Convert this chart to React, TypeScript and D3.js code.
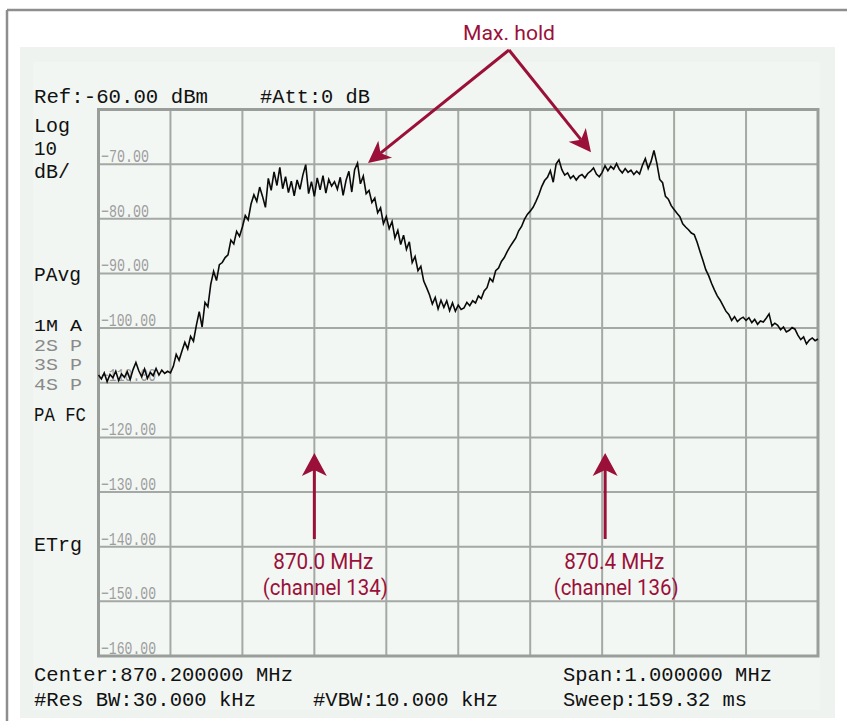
import React from "react";
import * as d3 from "d3";

// ---- data ----
const START_FREQ_MHZ = 869.7;
const SPAN_MHZ = 1.0;
const REF_LEVEL_DBM = -60;
const BOTTOM_LEVEL_DBM = -160;

// sweep trace (dBm), one row per horizontal division
const traceLevels: number[] = [
  -108.6, -109.3, -108.2, -109.8, -108.5, -109.1, -107.9, -109.6, -108.4, -109.0, -108.0, -109.4, -107.6, -106.3, -107.8, -108.9, -107.5, -109.2, -108.1, -108.7, -107.4, -108.6, -107.7, -108.3, -107.9,
  -108.2, -107.0, -104.8, -105.9, -104.2, -102.6, -103.8, -101.5, -102.4, -99.5, -97.0, -99.8, -95.3, -96.1, -92.0, -89.6, -91.3, -88.4, -88.0, -87.1, -86.6, -83.9, -84.6, -82.3, -83.2,
  -81.5, -79.4, -80.2, -77.3, -75.6, -76.8, -74.2, -75.9, -77.9, -72.6, -74.8, -71.4, -73.9, -70.6, -74.5, -72.3, -75.2, -73.1, -75.8, -72.9, -74.6, -72.0, -70.1, -75.4, -73.2,
  -75.9, -72.5, -74.7, -72.1, -75.3, -72.8, -74.0, -73.2, -74.6, -72.4, -75.7, -73.0, -71.3, -75.1, -71.0, -69.8, -73.6, -72.2, -75.4, -74.8, -77.0, -76.2, -78.9, -78.0, -80.9,
  -79.6, -81.8, -80.5, -83.5, -82.1, -84.7, -83.0, -85.6, -84.2, -88.0, -86.9, -89.5, -88.7, -91.4, -92.6, -93.9, -95.6, -94.4, -96.5, -94.9, -96.2, -95.0, -96.8, -95.4, -96.9,
  -95.8, -96.6, -96.3, -95.3, -95.9, -95.0, -95.4, -94.1, -94.6, -93.2, -92.6, -90.9, -91.5, -89.5, -89.0, -87.8, -87.1, -86.0, -85.1, -84.3, -83.5, -82.2, -81.4, -80.1, -79.2,
  -78.6, -77.9, -76.8, -75.6, -74.1, -73.0, -72.4, -71.2, -73.3, -70.0, -69.2, -71.0, -72.0, -71.6, -72.6, -72.1, -72.9, -72.2, -71.9, -72.5, -71.7, -71.3, -70.7, -71.8, -72.3,
  -71.5, -70.3, -71.2, -70.4, -70.9, -69.9, -71.0, -71.6, -70.8, -71.5, -71.1, -71.9, -71.3, -71.8, -70.2, -69.0, -70.8, -69.5, -67.5, -69.8, -72.8, -73.4, -75.9, -76.4, -77.6,
  -78.3, -79.0, -79.6, -80.9, -81.5, -82.0, -82.6, -82.9, -84.3, -86.0, -87.6, -89.3, -90.4, -91.8, -93.0, -94.1, -94.9, -95.9, -96.9, -97.5, -98.6, -97.9, -98.8, -98.3, -98.0,
  -98.6, -98.1, -99.0, -98.4, -99.3, -98.7, -98.9, -98.2, -97.4, -99.6, -99.1, -99.5, -100.3, -99.8, -100.7, -100.4, -99.9, -100.2, -101.3, -102.1, -101.6, -102.9, -102.2, -101.8, -102.3,
  -102.0,
];

const yTickValues: number[] = [-70, -80, -90, -100, -110, -120, -130, -140, -150, -160];
const xDivisions = 10;

const headerLeft = "Ref:-60.00 dBm";
const headerRight = "#Att:0 dB";
const sideLabels: string[] = ["Log", "10", "dB/"];
const modeLabel = "PAvg";
const traceLabels: string[] = ["1M  A", "2S  P", "3S  P", "4S  P"];
const traceActive: boolean[] = [true, false, false, false];
const detLabel = "PA FC";
const trigLabel = "ETrg";
const footerLeft: string[] = ["Center:870.200000 MHz", "#Res BW:30.000 kHz"];
const footerMid = "#VBW:10.000 kHz";
const footerRight: string[] = ["Span:1.000000 MHz", "Sweep:159.32 ms"];

const channelMarkers = [
  { freq: 870.0, line1: "870.0 MHz", line2: "(channel 134)" },
  { freq: 870.4, line1: "870.4 MHz", line2: "(channel 136)" },
];
const maxHoldLabel = "Max. hold";
const maxHoldTargets = [
  { freq: 870.0746, level: -69.8 },
  { freq: 870.3845, level: -67.8 },
];

// ---- styling ----
const W = 847;
const H = 721;
const RED = "#9b1039";
const MONO = "'Liberation Mono', 'DejaVu Sans Mono', monospace";
const SANS = "Roboto, 'Liberation Sans', sans-serif";

function arrowHead(sx: number, sy: number, tx: number, ty: number, L = 22, Wd = 11, notch = 6) {
  const dx = tx - sx;
  const dy = ty - sy;
  const len = Math.hypot(dx, dy);
  const ux = dx / len;
  const uy = dy / len;
  const nx = -uy;
  const ny = ux;
  const bx = tx - ux * L;
  const by = ty - uy * L;
  const mx = tx - ux * (L - notch);
  const my = ty - uy * (L - notch);
  const path = `M${tx},${ty}L${bx + nx * Wd},${by + ny * Wd}L${mx},${my}L${bx - nx * Wd},${by - ny * Wd}Z`;
  return { path, endX: mx, endY: my };
}

export default function App() {
  const x = d3.scaleLinear().domain([START_FREQ_MHZ, START_FREQ_MHZ + SPAN_MHZ]).range([98.5, 818]);
  const y = d3.scaleLinear().domain([REF_LEVEL_DBM, BOTTOM_LEVEL_DBM]).range([109.5, 656]);

  const n = traceLevels.length;
  const points: [number, number][] = traceLevels.map((v, i) => [
    START_FREQ_MHZ + (i * SPAN_MHZ) / (n - 1),
    v,
  ]);
  const line = d3
    .line<[number, number]>()
    .x((d) => x(d[0]))
    .y((d) => y(d[1]));

  const xGrid = d3.range(1, xDivisions).map((k) => START_FREQ_MHZ + (k * SPAN_MHZ) / xDivisions);
  const fmt = d3.format(".2f");

  const x0 = x(START_FREQ_MHZ);
  const x1 = x(START_FREQ_MHZ + SPAN_MHZ);
  const yTop = y(REF_LEVEL_DBM);
  const yBot = y(BOTTOM_LEVEL_DBM);

  const apex = { x: 509, y: 50 };

  const monoText = (
    t: string,
    tx: number,
    ty: number,
    len: number,
    fill = "#111",
    key?: string,
    size = 21
  ) => (
    <text
      key={key}
      x={tx}
      y={ty}
      fontFamily={MONO}
      fontSize={size}
      fill={fill}
      textLength={len}
      lengthAdjust="spacingAndGlyphs"
    >
      {t}
    </text>
  );

  return (
    <svg width={W} height={H} style={{ position: "absolute", left: 0, top: 0 }}>
      <rect x={0} y={0} width={W} height={H} fill="#ffffff" />
      {/* outer frame */}
      <line x1={7} y1={10} x2={W} y2={10} stroke="#8e8e8e" strokeWidth={2.5} />
      <line x1={7} y1={10} x2={7} y2={H} stroke="#8e8e8e" strokeWidth={2.5} />
      {/* instrument panel */}
      <rect x={20} y={47} width={815} height={671} fill="#eef3ef" />
      <rect x={33} y={62} width={787} height={648} fill="#f2f6f3" />
      <rect x={x0} y={yTop} width={x1 - x0} height={yBot - yTop} fill="#f3f7f4" />

      {/* grid */}
      <g stroke="#a5a9a5" strokeWidth={2}>
        {xGrid.map((f) => (
          <line key={"vx" + f} x1={x(f)} x2={x(f)} y1={yTop} y2={yBot} />
        ))}
        {yTickValues.slice(0, -1).map((v) => (
          <line key={"hy" + v} x1={x0} x2={x1} y1={y(v)} y2={y(v)} />
        ))}
      </g>
      <rect x={x0} y={yTop} width={x1 - x0} height={yBot - yTop} fill="none" stroke="#9a9e9a" strokeWidth={3} />

      {/* level labels */}
      {yTickValues.map((v) => {
        const s = fmt(v);
        return (
          <text
            key={"t" + v}
            x={101}
            y={y(v) - 2}
            fontFamily={MONO}
            fontSize={18}
            fill="#9d9d9d"
            textLength={s.length === 6 ? 48 : 55}
            lengthAdjust="spacingAndGlyphs"
          >
            {s}
          </text>
        );
      })}

      {/* trace */}
      <path d={line(points) || ""} fill="none" stroke="#0a0a0a" strokeWidth={1.6} strokeLinejoin="miter" />

      {/* instrument texts */}
      {monoText(headerLeft, 34, 103, 174)}
      {monoText(headerRight, 260, 103, 110)}
      {monoText(sideLabels[0], 34, 132, 36, "#111", "s0", 20)}
      {monoText(sideLabels[1], 34, 155, 23, "#111", "s1", 20)}
      {monoText(sideLabels[2], 34, 178, 36, "#111", "s2", 20)}
      {monoText(modeLabel, 34, 281, 47)}
      {traceLabels.map((t, i) =>
        monoText(t, 34, 331 + i * 19.5, 48, traceActive[i] ? "#111" : "#8a8a8a", "tr" + i, 17)
      )}
      {monoText(detLabel, 34, 421, 52)}
      {monoText(trigLabel, 34, 551, 48)}
      {monoText(footerLeft[0], 34, 681, 259)}
      {monoText(footerLeft[1], 34, 706, 222)}
      {monoText(footerMid, 313, 706, 185)}
      {monoText(footerRight[0], 563, 681, 209)}
      {monoText(footerRight[1], 563, 706, 184)}

      {/* Max hold annotation */}
      <text x={463} y={40} fontFamily={SANS} fontSize={21} fill={RED} textLength={92} lengthAdjust="spacingAndGlyphs">
        {maxHoldLabel}
      </text>
      {maxHoldTargets.map((t, i) => {
        const tx = x(t.freq);
        const ty = y(t.level);
        const h = arrowHead(apex.x, apex.y, tx, ty);
        return (
          <g key={"mh" + i}>
            <line x1={apex.x} y1={apex.y} x2={h.endX} y2={h.endY} stroke={RED} strokeWidth={3} />
            <path d={h.path} fill={RED} />
          </g>
        );
      })}

      {/* channel markers */}
      {channelMarkers.map((m, i) => {
        const cx = x(m.freq) + (i === 1 ? 3 : 0);
        const tipY = 453;
        const h = arrowHead(cx, 539, cx, tipY, 23, 12.5, 6);
        return (
          <g key={"cm" + i}>
            <line x1={cx} y1={539} x2={h.endX} y2={h.endY} stroke={RED} strokeWidth={3} />
            <path d={h.path} fill={RED} />
            <text
              x={cx + 9}
              y={569}
              textAnchor="middle"
              fontFamily={SANS}
              fontSize={22}
              fill={RED}
              textLength={100}
              lengthAdjust="spacingAndGlyphs"
            >
              {m.line1}
            </text>
            <text
              x={cx + 11}
              y={595}
              textAnchor="middle"
              fontFamily={SANS}
              fontSize={22}
              fill={RED}
              textLength={125}
              lengthAdjust="spacingAndGlyphs"
            >
              {m.line2}
            </text>
          </g>
        );
      })}
    </svg>
  );
}
